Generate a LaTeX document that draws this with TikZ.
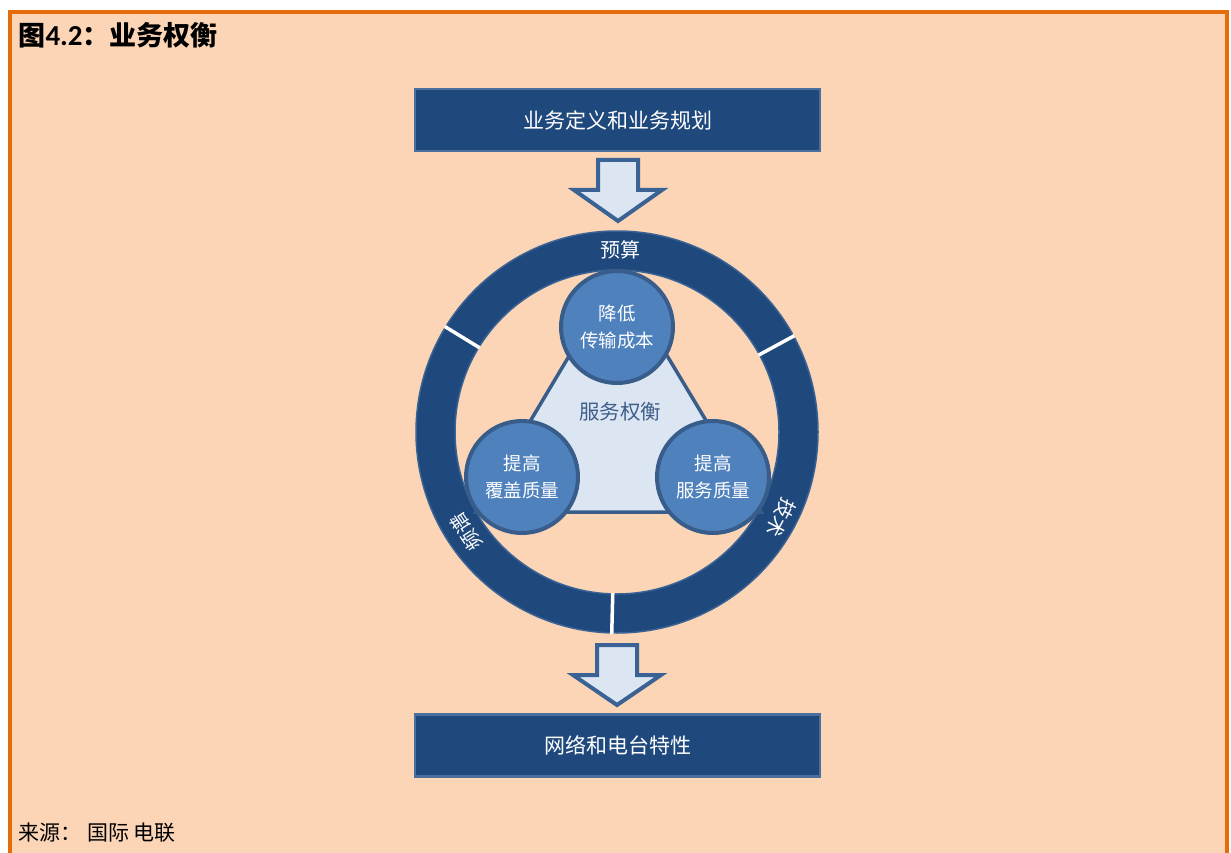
\documentclass[tikz,border=0pt]{standalone}
\usepackage{fontspec}
\newfontfamily\cjk{Noto Sans CJK SC}
\newfontfamily\latinb{Carlito}
\usetikzlibrary{calc}
\definecolor{peach}{HTML}{FBD5B5}
\definecolor{orangeb}{HTML}{E46C0A}
\definecolor{darkblue}{HTML}{1F497D}
\definecolor{boxedge}{HTML}{4A6E9E}
\definecolor{ringedge}{HTML}{3A6294}
\definecolor{lightfill}{HTML}{DCE6F2}
\definecolor{midblue}{HTML}{4F81BD}
\definecolor{circedge}{HTML}{385D8A}
\definecolor{tritext}{HTML}{3F5F8A}
\tikzset{
  bigbox/.style={draw=boxedge, line width=2.5pt, fill=darkblue, minimum width=405pt, minimum height=62pt, text=white, font=\cjk\fontsize{21}{25}\selectfont},
  blockarrow/.style={draw=ringedge, line width=4pt, fill=lightfill, line join=miter},
  goal/.style={circle, draw=circedge, line width=4pt, fill=midblue, minimum size=112pt, inner sep=0pt},
  goaltext/.style={text=white, align=center, inner sep=1pt, font=\cjk\fontsize{18.5}{27}\selectfont},
  ringlabel/.style={text=white, inner sep=0pt, font=\cjk\fontsize{20}{24}\selectfont},
  divider/.style={draw=white, line width=3.5pt}
}
\begin{document}
\begin{tikzpicture}[x=1pt,y=-1pt]
\useasboundingbox (0,0) rectangle (1231,853);
\fill[white] (0,0) rectangle (1231,853);
\fill[peach] (8,10) rectangle (1229,860);
\draw[orangeb, line width=4pt] (10,860) -- (10,12) -- (1227,12) -- (1227,860);
% title
\node[anchor=west, font=\cjk\bfseries\fontsize{27}{31}\selectfont] (title) at (15,35) {图{\latinb\bfseries\fontsize{29}{31}\selectfont 4.2}：业务权衡};
% top box
\node[bigbox] (top) at (617.5,120) {业务定义和业务规划};
% arrow 1
\coordinate (a1) at (618,160);
\draw[blockarrow] ($(a1)+(-20,0)$) -- ($(a1)+(20,0)$) -- ($(a1)+(20,30)$) -- ($(a1)+(44,30)$) -- ($(a1)+(0,61)$) -- ($(a1)+(-44,30)$) -- ($(a1)+(-20,30)$) -- cycle;
% ring
\coordinate (C) at (617,432);
\fill[darkblue, even odd rule] (C) circle[radius=201] (C) circle[radius=162];
\draw[ringedge, line width=1.5pt] (C) circle[radius=201];
\draw[ringedge, line width=1.5pt] (C) circle[radius=162];
\foreach \a in {28.5,148.5,268.5}{
  \draw[divider] ($(C)+(-\a:161)$) -- ($(C)+(-\a:202)$);
}
% triangle
\coordinate (t1) at (618,274);
\coordinate (t2) at (476,512);
\coordinate (t3) at (761,512);
\draw[draw=circedge, line width=3.5pt, fill=lightfill, line join=miter] (t1) -- (t2) -- (t3) -- cycle;
\node[text=tritext, font=\cjk\fontsize{20.5}{24}\selectfont] (core) at (620,412) {服务权衡};
% circles
\node[goal] (g1) at (617,327) {};
\node[goal] (g2) at (522,477) {};
\node[goal] (g3) at (713,477) {};
\node[goaltext] (g1t) at (g1) {降低\\传输成本};
\node[goaltext] (g2t) at (g2) {提高\\覆盖质量};
\node[goaltext] (g3t) at (g3) {提高\\服务质量};
% ring labels
\node[ringlabel] (l1) at ($(C)+(-89:182)$) {预算};
\node[ringlabel, rotate=-117.7] (l2) at ($(C)+(27.7:185)$) {技术};
\node[ringlabel, rotate=123.6] (l3) at ($(C)+(-213.6:181)$) {频谱};
% arrow 2
\coordinate (a2) at (617,645);
\draw[blockarrow] ($(a2)+(-20,0)$) -- ($(a2)+(20,0)$) -- ($(a2)+(20,30)$) -- ($(a2)+(44,30)$) -- ($(a2)+(0,60)$) -- ($(a2)+(-44,30)$) -- ($(a2)+(-20,30)$) -- cycle;
% bottom box
\node[bigbox] (bot) at (617.5,745.5) {网络和电台特性};
% source
\node[anchor=west, font=\cjk\fontsize{21}{24}\selectfont] (src) at (15,833) {来源：\hspace{6pt}国际\hspace{4pt}电联};
\end{tikzpicture}
\end{document}
